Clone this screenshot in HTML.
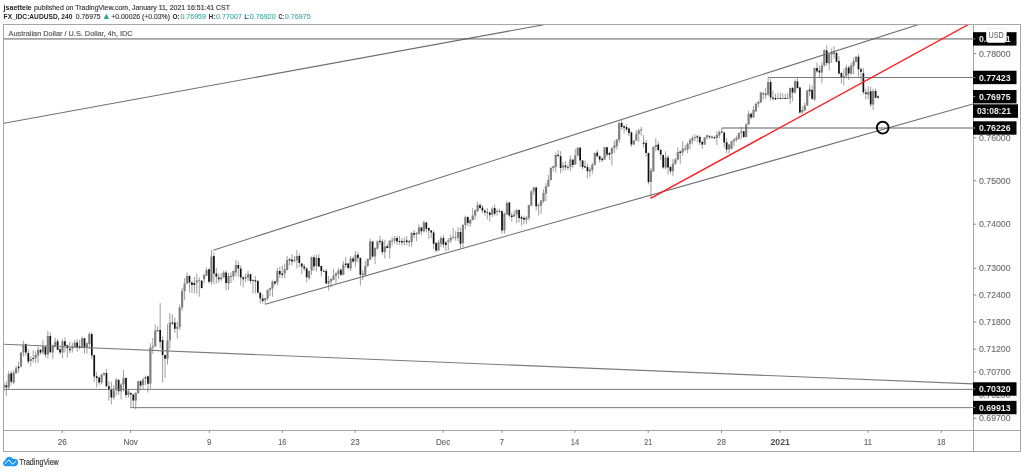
<!DOCTYPE html>
<html><head><meta charset="utf-8"><title>AUDUSD chart</title>
<style>html,body{margin:0;padding:0;background:#fff}body{width:1024px;height:472px;overflow:hidden}svg{display:block;will-change:transform}text{font-family:"Liberation Sans", sans-serif}</style></head><body>
<svg width="1024" height="472" viewBox="0 0 1024 472">
<rect width="1024" height="472" fill="#fff"/>
<text x="3.6" y="9.6" font-size="7.8" fill="#222" font-weight="bold" text-anchor="start" textLength="28.2" lengthAdjust="spacingAndGlyphs">jsaettele</text>
<text x="34" y="9.6" font-size="7.8" fill="#3c3c3c" font-weight="normal" text-anchor="start" textLength="196.0" lengthAdjust="spacingAndGlyphs" stroke="#3c3c3c" stroke-width="0.18">published on TradingView.com, January 11, 2021 16:51:41 CST</text>
<text x="3.6" y="18.9" font-size="7.8" fill="#222" font-weight="bold" text-anchor="start" textLength="68.8" lengthAdjust="spacingAndGlyphs">FX_IDC:AUDUSD, 240</text>
<text x="75.8" y="18.9" font-size="7.8" fill="#3c3c3c" font-weight="normal" text-anchor="start" textLength="24.9" lengthAdjust="spacingAndGlyphs" stroke="#3c3c3c" stroke-width="0.18">0.76975</text>
<path d="M103.7 18.9 L106.3 13.6 L108.9 18.9 Z" fill="#26a69a"/>
<text x="111.3" y="18.9" font-size="7.8" fill="#3c3c3c" font-weight="normal" text-anchor="start" textLength="58.7" lengthAdjust="spacingAndGlyphs" stroke="#3c3c3c" stroke-width="0.18">+0.00026 (+0.03%)</text>
<text x="172.5" y="18.9" font-size="7.8" fill="#222" font-weight="bold" text-anchor="start" textLength="7.2" lengthAdjust="spacingAndGlyphs">O:</text>
<text x="180.4" y="18.9" font-size="7.8" fill="#42b0a4" font-weight="normal" text-anchor="start" textLength="25.6" lengthAdjust="spacingAndGlyphs" stroke="#42b0a4" stroke-width="0.15">0.76959</text>
<text x="208.8" y="18.9" font-size="7.8" fill="#222" font-weight="bold" text-anchor="start" textLength="6.4" lengthAdjust="spacingAndGlyphs">H:</text>
<text x="216.0" y="18.9" font-size="7.8" fill="#42b0a4" font-weight="normal" text-anchor="start" textLength="26" lengthAdjust="spacingAndGlyphs" stroke="#42b0a4" stroke-width="0.15">0.77007</text>
<text x="244.4" y="18.9" font-size="7.8" fill="#222" font-weight="bold" text-anchor="start" textLength="4.6" lengthAdjust="spacingAndGlyphs">L:</text>
<text x="249.7" y="18.9" font-size="7.8" fill="#42b0a4" font-weight="normal" text-anchor="start" textLength="26" lengthAdjust="spacingAndGlyphs" stroke="#42b0a4" stroke-width="0.15">0.76920</text>
<text x="278.5" y="18.9" font-size="7.8" fill="#222" font-weight="bold" text-anchor="start" textLength="5.6" lengthAdjust="spacingAndGlyphs">C:</text>
<text x="284.8" y="18.9" font-size="7.8" fill="#42b0a4" font-weight="normal" text-anchor="start" textLength="26" lengthAdjust="spacingAndGlyphs" stroke="#42b0a4" stroke-width="0.15">0.76975</text>
<g fill="none" stroke="#a6a6a6" stroke-width="1">
<rect x="3.5" y="24.5" width="1017" height="427"/>
<line x1="973.5" y1="24.5" x2="973.5" y2="451.5"/>
<line x1="3.5" y1="430.5" x2="1020.5" y2="430.5"/>
</g>
<text x="8.6" y="35.9" font-size="7.6" fill="#585858" font-weight="normal" text-anchor="start" textLength="124" lengthAdjust="spacingAndGlyphs" stroke="#585858" stroke-width="0.18">Australian Dollar / U.S. Dollar, 4h, IDC</text>
<defs><clipPath id="c"><rect x="4" y="25" width="969" height="405"/></clipPath></defs>
<g clip-path="url(#c)">
<path d="M3.90 381.8V391.5M6.34 381.3V396.0M8.78 371.2V390.0M11.22 370.7V384.7M13.67 370.2V384.2M16.11 365.8V373.6M18.55 361.9V372.7M20.99 352.4V367.3M23.43 340.9V356.6M25.87 343.4V355.6M28.32 349.2V363.9M30.76 356.1V366.3M33.20 350.2V362.4M35.64 351.2V362.9M38.08 346.8V362.9M40.52 349.2V354.6M42.97 339.9V354.6M45.41 345.8V357.5M47.85 331.0V358.5M50.29 332.5V353.0M52.73 344.8V359.0M55.17 337.8V346.8M57.62 338.8V350.2M60.06 347.8V354.6M62.50 339.3V358.0M64.94 337.3V352.6M67.38 344.4V357.5M69.83 341.9V353.1M72.27 342.9V352.6M74.71 339.9V347.8M77.15 339.0V351.7M79.59 339.9V349.7M82.03 336.4V348.7M84.48 337.8V353.6M86.92 342.4V353.6M89.36 332.0V348.7M91.80 332.5V359.0M94.24 355.1V381.9M96.68 371.9V387.5M99.13 376.9V385.0M101.57 373.8V384.4M104.01 371.9V376.2M106.45 368.8V386.9M108.89 381.2V400.6M111.33 381.9V404.4M113.78 385.0V399.4M116.22 378.1V395.6M118.66 378.8V395.0M121.10 383.1V399.4M123.54 370.0V391.2M125.98 377.5V398.1M128.43 388.8V397.5M130.87 392.5V407.5M133.31 393.8V407.5M135.75 391.9V409.4M138.19 380.6V393.8M140.63 380.0V388.8M143.08 377.5V388.8M145.52 375.6V385.0M147.96 375.6V392.5M150.40 343.1V388.8M152.84 338.1V353.8M155.28 324.4V346.9M157.73 326.2V331.9M160.17 303.1V348.1M162.61 336.3V382.5M165.05 355.0V378.1M167.49 323.8V364.4M169.93 313.1V348.8M172.38 314.4V325.0M174.82 317.5V333.1M177.26 321.9V338.8M179.70 304.4V330.0M182.14 288.0V310.5M184.58 278.0V299.9M187.03 272.4V284.2M189.47 274.9V292.4M191.91 281.1V293.0M194.35 276.8V293.6M196.79 273.6V293.6M199.24 277.4V296.8M201.68 279.9V288.6M204.12 273.6V283.6M206.56 267.4V276.1M209.00 268.6V283.6M211.44 249.9V284.9M213.89 252.4V284.2M216.33 268.0V283.6M218.77 273.6V283.0M221.21 273.0V281.1M223.65 270.5V278.0M226.09 270.5V290.5M228.54 273.0V289.9M230.98 272.4V283.0M233.42 270.5V280.5M235.86 259.9V276.1M238.30 261.1V276.8M240.74 265.5V285.5M243.19 276.1V287.4M245.63 273.6V282.4M248.07 270.5V281.1M250.51 273.6V283.6M252.95 279.2V293.6M255.39 276.1V293.6M257.84 279.9V293.6M260.28 291.8V303.6M262.72 294.2V303.6M265.16 297.4V304.2M267.60 289.2V300.5M270.04 287.4V296.1M272.49 280.5V296.8M274.93 280.5V285.5M277.37 268.0V285.5M279.81 266.8V278.0M282.25 265.5V278.0M284.69 263.6V278.0M287.14 256.1V270.5M289.58 258.0V265.5M292.02 254.2V265.5M294.46 256.1V262.4M296.90 249.9V268.6M299.34 253.5V267.2M301.79 262.9V274.1M304.23 264.1V271.0M306.67 267.2V282.2M309.11 270.4V279.8M311.55 256.6V274.8M314.00 254.8V271.0M316.44 254.8V271.6M318.88 254.1V267.2M321.32 265.4V276.6M323.76 269.1V272.2M326.20 269.1V284.1M328.65 276.0V290.4M331.09 277.9V287.2M333.53 269.1V280.4M335.97 272.2V284.1M338.41 267.9V279.1M340.85 268.5V276.0M343.30 261.0V275.4M345.74 257.2V267.9M348.18 262.9V269.8M350.62 256.0V271.0M353.06 256.6V262.9M355.50 251.0V266.6M357.95 252.2V262.2M360.39 257.2V285.4M362.83 269.8V279.8M365.27 261.0V276.6M367.71 258.5V267.2M370.15 238.5V260.4M372.60 241.0V257.9M375.04 247.2V264.1M377.48 240.4V249.8M379.92 236.0V244.8M382.36 239.1V254.8M384.80 239.8V258.5M387.25 244.1V248.5M389.69 239.8V258.5M392.13 237.2V245.4M394.57 236.0V243.5M397.01 236.0V244.8M399.45 236.0V244.8M401.90 237.9V245.4M404.34 237.2V245.4M406.78 236.0V245.4M409.22 239.8V246.6M411.66 231.9V246.9M414.10 230.0V238.1M416.55 231.9V241.2M418.99 224.4V234.4M421.43 226.9V235.0M423.87 220.6V232.5M426.31 221.9V232.5M428.75 227.5V238.8M431.20 230.0V238.1M433.64 230.6V248.8M436.08 241.9V252.5M438.52 240.0V251.2M440.96 236.2V246.9M443.41 235.0V248.1M445.85 241.2V251.2M448.29 238.1V250.6M450.73 234.4V243.1M453.17 228.1V239.4M455.61 231.2V240.6M458.06 226.9V241.2M460.50 227.5V248.1M462.94 223.8V247.5M465.38 215.6V229.4M467.82 216.2V226.2M470.26 218.8V226.9M472.71 208.1V220.6M475.15 209.4V219.4M477.59 201.9V211.9M480.03 203.1V209.4M482.47 205.0V213.1M484.91 209.4V215.6M487.36 208.1V219.4M489.80 211.9V221.9M492.24 206.9V216.9M494.68 204.4V215.6M497.12 208.8V215.6M499.56 208.8V212.5M502.01 210.0V233.8M504.45 212.5V233.8M506.89 200.6V215.0M509.33 201.9V217.5M511.77 212.5V221.9M514.21 210.6V217.5M516.66 208.8V223.1M519.10 209.4V222.5M521.54 215.6V225.6M523.98 215.6V224.4M526.42 216.2V223.8M528.86 204.8V220.6M531.31 190.6V206.2M533.75 186.9V195.0M536.19 186.9V210.6M538.63 203.1V215.6M541.07 200.0V213.8M543.51 189.4V203.1M545.96 183.1V201.2M548.40 175.0V186.9M550.84 166.9V180.6M553.28 165.6V171.2M555.72 152.5V172.5M558.17 150.0V156.2M560.61 151.2V173.1M563.05 161.9V171.2M565.49 161.2V170.0M567.93 164.4V170.0M570.37 155.6V171.2M572.82 158.8V168.1M575.26 148.8V165.0M577.70 146.9V156.2M580.14 146.9V166.9M582.58 160.0V169.4M585.02 160.6V168.1M587.47 163.8V178.1M589.91 167.5V176.9M592.35 163.1V173.8M594.79 152.5V165.6M597.23 150.0V157.5M599.67 155.6V162.5M602.12 156.9V161.9M604.56 146.9V160.0M607.00 146.9V156.9M609.44 151.9V160.0M611.88 147.5V165.6M614.32 140.6V153.1M616.77 138.8V149.4M619.21 121.9V143.1M621.65 120.0V129.4M624.09 125.0V133.8M626.53 124.4V131.2M628.97 127.5V136.2M631.42 131.2V146.9M633.86 140.0V145.0M636.30 130.0V141.2M638.74 128.8V141.9M641.18 126.9V135.6M643.62 135.0V147.5M646.07 140.0V156.9M648.51 152.5V184.4M650.95 168.1V197.8M653.39 146.2V171.9M655.83 138.1V151.2M658.27 141.2V151.2M660.72 148.8V160.0M663.16 154.4V168.8M665.60 151.2V169.4M668.04 155.0V174.4M670.48 165.6V173.8M672.92 158.8V176.2M675.37 158.1V165.0M677.81 147.5V160.6M680.25 150.6V163.8M682.69 141.2V155.6M685.13 145.0V151.2M687.58 142.5V153.1M690.02 138.1V148.8M692.46 135.6V144.4M694.90 134.4V141.2M697.34 135.0V142.5M699.78 135.6V145.0M702.23 140.6V148.8M704.67 136.9V145.0M707.11 134.4V139.4M709.55 135.0V138.8M711.99 135.6V138.8M714.43 136.2V139.0M716.88 131.2V145.0M719.32 130.6V138.1M721.76 128.1V133.1M724.20 131.9V147.5M726.64 138.1V153.1M729.08 143.8V153.8M731.53 140.6V149.4M733.97 138.1V146.2M736.41 135.6V141.9M738.85 132.5V140.0M741.29 126.9V138.8M743.73 130.6V138.1M746.18 123.1V137.5M748.62 110.6V125.0M751.06 112.5V119.4M753.50 106.2V118.1M755.94 102.5V111.9M758.38 100.6V107.5M760.83 91.9V103.1M763.27 91.9V99.4M765.71 88.1V98.8M768.15 77.5V96.2M770.59 78.8V100.6M773.03 90.6V100.6M775.48 93.8V99.8M777.92 93.1V99.0M780.36 92.5V99.0M782.80 93.1V99.0M785.24 93.8V99.0M787.68 93.1V99.0M790.13 87.5V104.4M792.57 86.9V101.2M795.01 79.4V93.8M797.45 77.5V88.8M799.89 86.9V113.8M802.34 106.2V113.8M804.78 102.5V111.2M807.22 90.0V106.2M809.66 84.4V96.2M812.10 85.6V100.0M814.54 67.5V101.2M816.99 62.5V72.5M819.43 65.6V78.1M821.87 61.9V83.1M824.31 49.2V66.8M826.75 44.9V65.5M829.19 53.0V70.5M831.64 48.6V63.0M834.08 46.1V58.6M836.52 51.8V62.4M838.96 56.1V74.2M841.40 72.4V83.6M843.84 68.6V85.5M846.29 64.9V78.0M848.73 65.5V79.9M851.17 63.0V74.9M853.61 57.4V74.2M856.05 56.1V62.4M858.49 54.2V76.8M860.94 67.4V81.8M863.38 67.9V94.3M865.82 88.9V99.6M868.26 86.0V99.2M870.70 86.5V107.0M873.14 88.9V109.9M875.59 88.4V98.2M878.03 95.2V98.7" stroke="#8e8e8e" stroke-width="0.85" fill="none"/>
<path d="M2.80 384.7h2.2V387.6h-2.2ZM7.68 374.1h2.2V387.6h-2.2ZM12.57 372.7h2.2V382.7h-2.2ZM15.01 368.3h2.2V373.2h-2.2ZM19.89 352.4h2.2V366.8h-2.2ZM22.33 344.8h2.2V352.6h-2.2ZM29.66 359.0h2.2V360.9h-2.2ZM34.54 355.1h2.2V358.0h-2.2ZM36.98 349.7h2.2V355.6h-2.2ZM41.87 346.3h2.2V352.6h-2.2ZM46.75 335.9h2.2V354.6h-2.2ZM51.63 345.3h2.2V352.6h-2.2ZM54.07 341.7h2.2V346.8h-2.2ZM61.40 341.3h2.2V352.6h-2.2ZM73.61 342.4h2.2V347.8h-2.2ZM80.93 338.3h2.2V347.3h-2.2ZM85.82 343.2h2.2V347.8h-2.2ZM88.26 333.9h2.2V343.9h-2.2ZM100.47 374.4h2.2V382.5h-2.2ZM102.91 373.1h2.2V374.4h-2.2ZM112.68 390.6h2.2V397.5h-2.2ZM115.12 379.4h2.2V389.4h-2.2ZM120.00 384.4h2.2V391.2h-2.2ZM122.44 378.1h2.2V384.4h-2.2ZM127.33 391.2h2.2V395.0h-2.2ZM134.65 393.1h2.2V400.6h-2.2ZM137.09 381.2h2.2V393.1h-2.2ZM141.98 379.4h2.2V385.0h-2.2ZM144.42 376.9h2.2V378.8h-2.2ZM149.30 347.5h2.2V383.8h-2.2ZM151.74 346.2h2.2V347.5h-2.2ZM154.18 330.6h2.2V346.2h-2.2ZM156.63 330.0h2.2V331.2h-2.2ZM166.39 340.6h2.2V358.8h-2.2ZM168.83 322.5h2.2V340.6h-2.2ZM176.16 326.9h2.2V328.8h-2.2ZM178.60 307.5h2.2V326.9h-2.2ZM181.04 291.1h2.2V307.4h-2.2ZM183.48 283.6h2.2V291.1h-2.2ZM185.93 276.1h2.2V283.6h-2.2ZM195.69 280.5h2.2V282.4h-2.2ZM198.14 280.2h2.2V281.1h-2.2ZM203.02 274.9h2.2V279.2h-2.2ZM205.46 269.9h2.2V275.5h-2.2ZM210.34 256.5h2.2V281.8h-2.2ZM220.11 277.4h2.2V279.2h-2.2ZM222.55 272.4h2.2V277.4h-2.2ZM227.44 276.1h2.2V283.6h-2.2ZM229.88 276.1h2.2V277.0h-2.2ZM232.32 271.1h2.2V276.5h-2.2ZM234.76 264.9h2.2V272.4h-2.2ZM244.53 276.8h2.2V278.6h-2.2ZM246.97 274.2h2.2V277.4h-2.2ZM264.06 298.2h2.2V300.2h-2.2ZM266.50 289.9h2.2V298.6h-2.2ZM268.94 288.2h2.2V289.9h-2.2ZM271.39 281.5h2.2V288.6h-2.2ZM276.27 271.1h2.2V282.4h-2.2ZM283.59 269.2h2.2V273.6h-2.2ZM286.04 259.9h2.2V269.9h-2.2ZM293.36 259.9h2.2V261.1h-2.2ZM295.80 256.1h2.2V260.5h-2.2ZM308.01 271.0h2.2V277.9h-2.2ZM310.45 257.2h2.2V270.4h-2.2ZM315.34 257.9h2.2V266.0h-2.2ZM327.55 281.0h2.2V283.5h-2.2ZM329.99 279.1h2.2V281.6h-2.2ZM332.43 275.4h2.2V279.8h-2.2ZM334.87 273.5h2.2V275.8h-2.2ZM337.31 270.4h2.2V274.1h-2.2ZM342.20 264.8h2.2V274.8h-2.2ZM349.52 258.5h2.2V268.5h-2.2ZM354.40 254.8h2.2V261.6h-2.2ZM361.73 273.5h2.2V275.0h-2.2ZM364.17 266.0h2.2V274.8h-2.2ZM366.61 259.1h2.2V266.0h-2.2ZM369.05 241.6h2.2V259.8h-2.2ZM373.94 247.9h2.2V256.6h-2.2ZM376.38 241.6h2.2V248.5h-2.2ZM383.70 246.6h2.2V252.0h-2.2ZM388.59 240.8h2.2V247.9h-2.2ZM391.03 240.4h2.2V241.6h-2.2ZM393.47 238.2h2.2V240.8h-2.2ZM403.24 240.8h2.2V242.2h-2.2ZM410.56 233.1h2.2V241.9h-2.2ZM415.45 233.1h2.2V234.4h-2.2ZM417.89 227.5h2.2V233.8h-2.2ZM422.77 222.5h2.2V231.2h-2.2ZM437.42 242.5h2.2V250.6h-2.2ZM439.86 238.1h2.2V243.8h-2.2ZM447.19 240.6h2.2V241.9h-2.2ZM449.63 237.8h2.2V240.6h-2.2ZM452.07 237.2h2.2V238.1h-2.2ZM454.51 236.9h2.2V237.8h-2.2ZM456.96 231.9h2.2V237.8h-2.2ZM461.84 225.0h2.2V243.1h-2.2ZM464.28 216.9h2.2V225.0h-2.2ZM469.16 220.0h2.2V223.5h-2.2ZM471.61 215.6h2.2V220.0h-2.2ZM474.05 210.6h2.2V215.6h-2.2ZM476.49 205.0h2.2V211.2h-2.2ZM491.14 208.8h2.2V214.8h-2.2ZM496.02 211.0h2.2V212.0h-2.2ZM503.35 213.8h2.2V230.6h-2.2ZM505.79 203.1h2.2V214.4h-2.2ZM513.11 214.4h2.2V216.5h-2.2ZM515.56 210.0h2.2V214.4h-2.2ZM525.32 217.5h2.2V219.8h-2.2ZM527.76 205.0h2.2V218.1h-2.2ZM530.21 191.2h2.2V205.6h-2.2ZM532.65 187.5h2.2V191.2h-2.2ZM537.53 205.0h2.2V206.2h-2.2ZM539.97 200.6h2.2V205.6h-2.2ZM542.41 193.1h2.2V201.2h-2.2ZM544.86 186.2h2.2V193.5h-2.2ZM547.30 180.0h2.2V186.5h-2.2ZM549.74 168.1h2.2V180.0h-2.2ZM552.18 166.2h2.2V168.1h-2.2ZM554.62 155.0h2.2V166.9h-2.2ZM561.95 165.6h2.2V167.5h-2.2ZM569.27 159.4h2.2V166.9h-2.2ZM574.16 155.6h2.2V164.4h-2.2ZM576.60 148.1h2.2V155.6h-2.2ZM588.81 169.4h2.2V171.5h-2.2ZM591.25 164.4h2.2V170.0h-2.2ZM593.69 153.1h2.2V164.8h-2.2ZM603.46 147.2h2.2V159.8h-2.2ZM610.78 148.1h2.2V153.8h-2.2ZM613.22 145.6h2.2V148.1h-2.2ZM615.67 139.4h2.2V146.2h-2.2ZM618.11 123.1h2.2V139.8h-2.2ZM632.76 140.6h2.2V144.4h-2.2ZM635.20 133.8h2.2V140.6h-2.2ZM637.64 130.6h2.2V133.8h-2.2ZM640.08 129.4h2.2V130.6h-2.2ZM649.85 170.6h2.2V181.9h-2.2ZM652.29 146.9h2.2V171.2h-2.2ZM654.73 145.0h2.2V146.9h-2.2ZM664.50 157.5h2.2V167.5h-2.2ZM671.82 163.8h2.2V171.2h-2.2ZM674.27 159.4h2.2V163.8h-2.2ZM676.71 151.9h2.2V159.4h-2.2ZM681.59 148.8h2.2V152.5h-2.2ZM684.03 148.5h2.2V149.4h-2.2ZM686.48 143.8h2.2V149.4h-2.2ZM688.92 140.0h2.2V143.8h-2.2ZM691.36 138.1h2.2V140.6h-2.2ZM693.80 136.9h2.2V138.1h-2.2ZM703.57 137.5h2.2V144.4h-2.2ZM706.01 135.2h2.2V137.5h-2.2ZM715.78 135.0h2.2V138.1h-2.2ZM718.22 131.9h2.2V135.6h-2.2ZM727.98 144.4h2.2V149.4h-2.2ZM730.43 141.2h2.2V148.8h-2.2ZM732.87 139.4h2.2V141.5h-2.2ZM735.31 138.1h2.2V139.8h-2.2ZM737.75 133.1h2.2V138.5h-2.2ZM740.19 131.5h2.2V133.1h-2.2ZM745.08 124.4h2.2V136.9h-2.2ZM747.52 113.8h2.2V124.4h-2.2ZM752.40 110.0h2.2V117.5h-2.2ZM754.84 103.8h2.2V111.2h-2.2ZM757.28 101.9h2.2V103.8h-2.2ZM759.73 92.5h2.2V102.5h-2.2ZM762.17 93.1h2.2V94.4h-2.2ZM767.05 81.9h2.2V94.4h-2.2ZM776.82 98.0h2.2V99.0h-2.2ZM781.70 98.0h2.2V99.0h-2.2ZM786.58 98.0h2.2V99.0h-2.2ZM789.03 88.1h2.2V98.2h-2.2ZM793.91 81.2h2.2V92.5h-2.2ZM801.24 110.0h2.2V112.2h-2.2ZM803.68 105.6h2.2V110.6h-2.2ZM806.12 90.6h2.2V105.6h-2.2ZM813.44 68.1h2.2V99.4h-2.2ZM820.77 65.6h2.2V72.5h-2.2ZM823.21 49.9h2.2V65.5h-2.2ZM828.09 54.2h2.2V63.6h-2.2ZM830.54 52.4h2.2V54.5h-2.2ZM842.74 76.1h2.2V77.4h-2.2ZM845.19 67.4h2.2V76.1h-2.2ZM850.07 65.5h2.2V73.6h-2.2ZM852.51 61.1h2.2V66.1h-2.2ZM854.95 56.8h2.2V61.8h-2.2ZM867.16 91.8h2.2V94.8h-2.2ZM872.04 90.9h2.2V104.5h-2.2Z" fill="#808080"/>
<path d="M5.49 385.2h1.7V387.6h-1.7ZM10.37 373.2h1.7V381.8h-1.7ZM17.70 366.8h1.7V368.3h-1.7ZM25.02 344.1h1.7V352.6h-1.7ZM27.47 353.1h1.7V361.4h-1.7ZM32.35 358.0h1.7V359.0h-1.7ZM39.67 349.7h1.7V352.6h-1.7ZM44.56 346.8h1.7V354.6h-1.7ZM49.44 335.9h1.7V352.2h-1.7ZM56.77 341.3h1.7V349.7h-1.7ZM59.21 349.2h1.7V352.6h-1.7ZM64.09 341.3h1.7V345.8h-1.7ZM66.53 345.3h1.7V348.2h-1.7ZM68.98 348.7h1.7V350.2h-1.7ZM71.42 347.3h1.7V348.2h-1.7ZM76.30 342.4h1.7V347.3h-1.7ZM78.74 346.3h1.7V347.8h-1.7ZM83.63 338.3h1.7V347.8h-1.7ZM90.95 333.9h1.7V355.6h-1.7ZM93.39 355.1h1.7V376.4h-1.7ZM95.83 376.2h1.7V378.1h-1.7ZM98.28 377.5h1.7V382.5h-1.7ZM105.60 373.1h1.7V386.2h-1.7ZM108.04 386.2h1.7V389.4h-1.7ZM110.48 390.0h1.7V397.5h-1.7ZM117.81 380.0h1.7V391.2h-1.7ZM125.13 378.1h1.7V395.0h-1.7ZM130.02 393.1h1.7V394.4h-1.7ZM132.46 394.4h1.7V400.6h-1.7ZM139.78 381.2h1.7V385.6h-1.7ZM147.11 376.2h1.7V383.8h-1.7ZM159.32 330.0h1.7V341.9h-1.7ZM161.76 340.0h1.7V355.0h-1.7ZM164.20 355.0h1.7V358.8h-1.7ZM171.53 322.5h1.7V323.8h-1.7ZM173.97 322.5h1.7V328.8h-1.7ZM188.62 276.1h1.7V282.4h-1.7ZM191.06 282.4h1.7V284.9h-1.7ZM193.50 283.0h1.7V284.9h-1.7ZM200.83 280.8h1.7V288.0h-1.7ZM208.15 269.2h1.7V281.8h-1.7ZM213.04 256.1h1.7V273.6h-1.7ZM215.48 273.6h1.7V276.8h-1.7ZM217.92 277.4h1.7V279.2h-1.7ZM225.24 272.4h1.7V283.0h-1.7ZM237.45 264.9h1.7V268.6h-1.7ZM239.89 268.6h1.7V277.4h-1.7ZM242.34 277.4h1.7V279.2h-1.7ZM249.66 274.2h1.7V281.1h-1.7ZM252.10 280.2h1.7V281.1h-1.7ZM254.54 280.2h1.7V281.5h-1.7ZM256.99 281.1h1.7V292.4h-1.7ZM259.43 292.8h1.7V298.6h-1.7ZM261.87 298.6h1.7V301.1h-1.7ZM274.08 281.5h1.7V283.6h-1.7ZM278.96 271.1h1.7V274.2h-1.7ZM281.40 273.6h1.7V274.9h-1.7ZM288.73 259.2h1.7V260.5h-1.7ZM291.17 259.5h1.7V261.5h-1.7ZM298.49 256.0h1.7V262.9h-1.7ZM300.94 263.5h1.7V266.6h-1.7ZM303.38 266.6h1.7V268.5h-1.7ZM305.82 268.5h1.7V277.2h-1.7ZM313.15 257.2h1.7V266.6h-1.7ZM318.03 257.9h1.7V266.6h-1.7ZM320.47 266.0h1.7V271.0h-1.7ZM322.91 270.9h1.7V271.8h-1.7ZM325.35 271.0h1.7V283.5h-1.7ZM340.00 269.8h1.7V274.8h-1.7ZM344.89 263.5h1.7V265.0h-1.7ZM347.33 263.5h1.7V267.9h-1.7ZM352.21 258.5h1.7V261.6h-1.7ZM357.10 254.8h1.7V257.9h-1.7ZM359.54 257.9h1.7V274.8h-1.7ZM371.75 241.6h1.7V256.6h-1.7ZM379.07 240.8h1.7V242.0h-1.7ZM381.51 241.6h1.7V252.0h-1.7ZM386.40 246.2h1.7V247.9h-1.7ZM396.16 237.9h1.7V241.6h-1.7ZM398.60 241.0h1.7V242.0h-1.7ZM401.05 241.0h1.7V242.5h-1.7ZM405.93 240.4h1.7V242.0h-1.7ZM408.37 241.2h1.7V242.2h-1.7ZM413.25 233.1h1.7V234.8h-1.7ZM420.58 227.5h1.7V231.2h-1.7ZM425.46 222.5h1.7V228.8h-1.7ZM427.90 228.1h1.7V230.6h-1.7ZM430.35 230.6h1.7V232.5h-1.7ZM432.79 232.5h1.7V243.8h-1.7ZM435.23 243.1h1.7V250.6h-1.7ZM442.56 238.1h1.7V244.4h-1.7ZM445.00 242.5h1.7V245.0h-1.7ZM459.65 231.9h1.7V243.8h-1.7ZM466.97 216.9h1.7V223.1h-1.7ZM479.18 205.0h1.7V208.1h-1.7ZM481.62 207.5h1.7V210.6h-1.7ZM484.06 210.6h1.7V212.5h-1.7ZM486.51 212.2h1.7V213.1h-1.7ZM488.95 212.5h1.7V215.0h-1.7ZM493.83 208.1h1.7V213.8h-1.7ZM498.71 210.9h1.7V211.8h-1.7ZM501.16 211.2h1.7V230.6h-1.7ZM508.48 202.5h1.7V215.6h-1.7ZM510.92 215.6h1.7V216.9h-1.7ZM518.25 210.0h1.7V218.1h-1.7ZM520.69 216.9h1.7V218.8h-1.7ZM523.13 218.1h1.7V219.8h-1.7ZM535.34 187.5h1.7V206.2h-1.7ZM557.32 154.8h1.7V156.2h-1.7ZM559.76 156.2h1.7V168.1h-1.7ZM564.64 165.6h1.7V167.2h-1.7ZM567.08 166.9h1.7V167.8h-1.7ZM571.97 159.8h1.7V165.0h-1.7ZM579.29 147.8h1.7V160.6h-1.7ZM581.73 160.6h1.7V166.9h-1.7ZM584.17 166.2h1.7V167.5h-1.7ZM586.62 166.9h1.7V171.2h-1.7ZM596.38 152.5h1.7V156.2h-1.7ZM598.82 156.2h1.7V159.4h-1.7ZM601.27 158.8h1.7V160.2h-1.7ZM606.15 147.2h1.7V154.4h-1.7ZM608.59 153.1h1.7V154.8h-1.7ZM620.80 123.1h1.7V126.9h-1.7ZM623.24 126.2h1.7V127.8h-1.7ZM625.68 126.9h1.7V129.4h-1.7ZM628.12 128.5h1.7V133.1h-1.7ZM630.57 132.5h1.7V144.4h-1.7ZM642.77 142.5h1.7V143.8h-1.7ZM645.22 143.1h1.7V153.1h-1.7ZM647.66 153.1h1.7V181.9h-1.7ZM657.42 144.4h1.7V150.0h-1.7ZM659.87 150.0h1.7V154.4h-1.7ZM662.31 155.0h1.7V167.5h-1.7ZM667.19 157.5h1.7V167.5h-1.7ZM669.63 166.9h1.7V171.2h-1.7ZM679.40 151.5h1.7V153.1h-1.7ZM696.49 136.2h1.7V137.5h-1.7ZM698.93 136.9h1.7V142.5h-1.7ZM701.38 141.9h1.7V144.4h-1.7ZM708.70 136.2h1.7V137.2h-1.7ZM711.14 136.7h1.7V137.6h-1.7ZM713.58 137.2h1.7V138.2h-1.7ZM720.91 131.6h1.7V132.5h-1.7ZM723.35 132.5h1.7V142.5h-1.7ZM725.79 142.2h1.7V149.4h-1.7ZM742.88 131.2h1.7V136.9h-1.7ZM750.21 113.8h1.7V117.5h-1.7ZM764.86 93.8h1.7V94.8h-1.7ZM769.74 81.9h1.7V97.5h-1.7ZM772.18 97.5h1.7V98.8h-1.7ZM774.63 98.1h1.7V99.4h-1.7ZM779.51 98.0h1.7V99.0h-1.7ZM784.39 98.0h1.7V99.0h-1.7ZM791.72 88.1h1.7V92.5h-1.7ZM796.60 81.2h1.7V88.1h-1.7ZM799.04 87.5h1.7V112.5h-1.7ZM808.81 89.4h1.7V91.2h-1.7ZM811.25 90.0h1.7V98.8h-1.7ZM816.14 68.1h1.7V71.2h-1.7ZM818.58 70.6h1.7V72.5h-1.7ZM825.90 50.5h1.7V63.0h-1.7ZM833.23 52.4h1.7V53.6h-1.7ZM835.67 53.0h1.7V61.8h-1.7ZM838.11 61.1h1.7V73.6h-1.7ZM840.55 73.0h1.7V77.4h-1.7ZM847.88 67.4h1.7V73.6h-1.7ZM857.64 56.8h1.7V69.2h-1.7ZM860.09 69.2h1.7V71.8h-1.7ZM862.53 73.3h1.7V92.3h-1.7ZM864.97 92.5h1.7V94.1h-1.7ZM869.85 91.2h1.7V104.5h-1.7ZM874.74 90.9h1.7V97.7h-1.7ZM877.18 96.2h1.7V97.7h-1.7Z" fill="#111"/>
<g stroke="#6e6e6e" stroke-width="1.1" fill="none">
<line x1="3.5" y1="123.4" x2="545" y2="24.5"/>
<line x1="213.2" y1="250.2" x2="918.6" y2="24.5"/>
<line x1="265.2" y1="304.2" x2="973" y2="104"/>
<line x1="3.5" y1="344.3" x2="973" y2="383.9" stroke="#7c7c7c"/>
</g>
<g stroke="#5e5e5e" stroke-width="1" fill="none">
<line x1="3.5" y1="38.95" x2="973" y2="38.95"/>
<line x1="768.1" y1="77.5" x2="973" y2="77.5" stroke="#787878"/>
<line x1="721.7" y1="128.0" x2="973" y2="128.0"/>
<line x1="3.5" y1="389.4" x2="973" y2="389.4" stroke="#787878"/>
<line x1="130.4" y1="407.65" x2="973" y2="407.65" stroke="#787878"/>
</g>
<line x1="650.5" y1="198.4" x2="968.5" y2="24.5" stroke="#ff1c1c" stroke-width="1.4"/>
<circle cx="882.7" cy="127.7" r="5.9" fill="none" stroke="#000" stroke-width="1.9"/>
</g>
<line x1="973.5" y1="53.6" x2="976.3" y2="53.6" stroke="#8a8a8a" stroke-width="1"/>
<text x="979.0" y="56.7" font-size="9.1" fill="#6c6c6c" font-weight="normal" text-anchor="start" textLength="31.6" lengthAdjust="spacingAndGlyphs" stroke="#6c6c6c" stroke-width="0.12">0.78000</text>
<line x1="973.5" y1="137.8" x2="976.3" y2="137.8" stroke="#8a8a8a" stroke-width="1"/>
<text x="979.0" y="140.8" font-size="9.1" fill="#6c6c6c" font-weight="normal" text-anchor="start" textLength="31.6" lengthAdjust="spacingAndGlyphs" stroke="#6c6c6c" stroke-width="0.12">0.76000</text>
<line x1="973.5" y1="180.7" x2="976.3" y2="180.7" stroke="#8a8a8a" stroke-width="1"/>
<text x="979.0" y="183.8" font-size="9.1" fill="#6c6c6c" font-weight="normal" text-anchor="start" textLength="31.6" lengthAdjust="spacingAndGlyphs" stroke="#6c6c6c" stroke-width="0.12">0.75000</text>
<line x1="973.5" y1="224.2" x2="976.3" y2="224.2" stroke="#8a8a8a" stroke-width="1"/>
<text x="979.0" y="227.3" font-size="9.1" fill="#6c6c6c" font-weight="normal" text-anchor="start" textLength="31.6" lengthAdjust="spacingAndGlyphs" stroke="#6c6c6c" stroke-width="0.12">0.74000</text>
<line x1="973.5" y1="268.3" x2="976.3" y2="268.3" stroke="#8a8a8a" stroke-width="1"/>
<text x="979.0" y="271.3" font-size="9.1" fill="#6c6c6c" font-weight="normal" text-anchor="start" textLength="31.6" lengthAdjust="spacingAndGlyphs" stroke="#6c6c6c" stroke-width="0.12">0.73000</text>
<line x1="973.5" y1="295.0" x2="976.3" y2="295.0" stroke="#8a8a8a" stroke-width="1"/>
<text x="979.0" y="298.1" font-size="9.1" fill="#6c6c6c" font-weight="normal" text-anchor="start" textLength="31.6" lengthAdjust="spacingAndGlyphs" stroke="#6c6c6c" stroke-width="0.12">0.72400</text>
<line x1="973.5" y1="322.0" x2="976.3" y2="322.0" stroke="#8a8a8a" stroke-width="1"/>
<text x="979.0" y="325.1" font-size="9.1" fill="#6c6c6c" font-weight="normal" text-anchor="start" textLength="31.6" lengthAdjust="spacingAndGlyphs" stroke="#6c6c6c" stroke-width="0.12">0.71800</text>
<line x1="973.5" y1="349.2" x2="976.3" y2="349.2" stroke="#8a8a8a" stroke-width="1"/>
<text x="979.0" y="352.2" font-size="9.1" fill="#6c6c6c" font-weight="normal" text-anchor="start" textLength="31.6" lengthAdjust="spacingAndGlyphs" stroke="#6c6c6c" stroke-width="0.12">0.71200</text>
<line x1="973.5" y1="372.0" x2="976.3" y2="372.0" stroke="#8a8a8a" stroke-width="1"/>
<text x="979.0" y="375.1" font-size="9.1" fill="#6c6c6c" font-weight="normal" text-anchor="start" textLength="31.6" lengthAdjust="spacingAndGlyphs" stroke="#6c6c6c" stroke-width="0.12">0.70700</text>
<line x1="973.5" y1="395.0" x2="976.3" y2="395.0" stroke="#8a8a8a" stroke-width="1"/>
<text x="979.0" y="398.1" font-size="9.1" fill="#6c6c6c" font-weight="normal" text-anchor="start" textLength="31.6" lengthAdjust="spacingAndGlyphs" stroke="#6c6c6c" stroke-width="0.12">0.70200</text>
<line x1="973.5" y1="418.2" x2="976.3" y2="418.2" stroke="#8a8a8a" stroke-width="1"/>
<text x="979.0" y="421.2" font-size="9.1" fill="#6c6c6c" font-weight="normal" text-anchor="start" textLength="31.6" lengthAdjust="spacingAndGlyphs" stroke="#6c6c6c" stroke-width="0.12">0.69700</text>
<rect x="973" y="32.20" width="43.5" height="13.4" fill="#000"/>
<line x1="973" y1="38.9" x2="975.4" y2="38.9" stroke="#8c8c8c" stroke-width="1"/>
<text x="978.9" y="42.0" font-size="8.9" fill="#ececec" font-weight="bold" text-anchor="start" textLength="31.7" lengthAdjust="spacingAndGlyphs">0.78361</text>
<rect x="973" y="70.75" width="43.5" height="13.4" fill="#000"/>
<line x1="973" y1="77.5" x2="975.4" y2="77.5" stroke="#8c8c8c" stroke-width="1"/>
<text x="978.9" y="80.6" font-size="8.9" fill="#ececec" font-weight="bold" text-anchor="start" textLength="31.7" lengthAdjust="spacingAndGlyphs">0.77423</text>
<rect x="973" y="90.00" width="43.5" height="13.4" fill="#000"/>
<line x1="973" y1="96.7" x2="975.4" y2="96.7" stroke="#8c8c8c" stroke-width="1"/>
<text x="978.9" y="99.9" font-size="8.9" fill="#ececec" font-weight="bold" text-anchor="start" textLength="31.7" lengthAdjust="spacingAndGlyphs">0.76975</text>
<rect x="973" y="104.3" width="45" height="13.5" fill="#000"/>
<text x="976.9" y="114.4" font-size="8.9" fill="#ececec" font-weight="bold" text-anchor="start" textLength="34.0" lengthAdjust="spacingAndGlyphs">03:08:21</text>
<rect x="973" y="121.30" width="43.5" height="13.4" fill="#000"/>
<line x1="973" y1="128.0" x2="975.4" y2="128.0" stroke="#8c8c8c" stroke-width="1"/>
<text x="978.9" y="131.2" font-size="8.9" fill="#ececec" font-weight="bold" text-anchor="start" textLength="31.7" lengthAdjust="spacingAndGlyphs">0.76226</text>
<rect x="973" y="382.30" width="43.5" height="13.4" fill="#000"/>
<line x1="973" y1="389.0" x2="975.4" y2="389.0" stroke="#8c8c8c" stroke-width="1"/>
<text x="978.9" y="392.1" font-size="8.9" fill="#ececec" font-weight="bold" text-anchor="start" textLength="31.7" lengthAdjust="spacingAndGlyphs">0.70320</text>
<rect x="973" y="400.85" width="43.5" height="13.4" fill="#000"/>
<line x1="973" y1="407.6" x2="975.4" y2="407.6" stroke="#8c8c8c" stroke-width="1"/>
<text x="978.9" y="410.7" font-size="8.9" fill="#ececec" font-weight="bold" text-anchor="start" textLength="31.7" lengthAdjust="spacingAndGlyphs">0.69913</text>
<rect x="986.5" y="28.4" width="19.8" height="14" rx="2.2" fill="#fff" stroke="#dfe3ea" stroke-width="0.8"/>
<text x="996.2" y="38.3" font-size="9.4" fill="#5a5a5a" font-weight="normal" text-anchor="middle" textLength="15.2" lengthAdjust="spacingAndGlyphs">USD</text>
<line x1="62.3" y1="430.5" x2="62.3" y2="432.8" stroke="#8a8a8a" stroke-width="1"/>
<text x="62.3" y="444.7" font-size="9.2" fill="#606060" font-weight="normal" text-anchor="middle" textLength="9.2" lengthAdjust="spacingAndGlyphs" stroke="#606060" stroke-width="0.12">26</text>
<line x1="130.6" y1="430.5" x2="130.6" y2="432.8" stroke="#8a8a8a" stroke-width="1"/>
<text x="130.6" y="444.7" font-size="9.2" fill="#606060" font-weight="normal" text-anchor="middle" textLength="14.4" lengthAdjust="spacingAndGlyphs" stroke="#606060" stroke-width="0.12">Nov</text>
<line x1="209.3" y1="430.5" x2="209.3" y2="432.8" stroke="#8a8a8a" stroke-width="1"/>
<text x="209.3" y="444.7" font-size="9.2" fill="#606060" font-weight="normal" text-anchor="middle" textLength="4.4" lengthAdjust="spacingAndGlyphs" stroke="#606060" stroke-width="0.12">9</text>
<line x1="282.3" y1="430.5" x2="282.3" y2="432.8" stroke="#8a8a8a" stroke-width="1"/>
<text x="282.3" y="444.7" font-size="9.2" fill="#606060" font-weight="normal" text-anchor="middle" textLength="8.1" lengthAdjust="spacingAndGlyphs" stroke="#606060" stroke-width="0.12">16</text>
<line x1="355.2" y1="430.5" x2="355.2" y2="432.8" stroke="#8a8a8a" stroke-width="1"/>
<text x="355.2" y="444.7" font-size="9.2" fill="#606060" font-weight="normal" text-anchor="middle" textLength="8.8" lengthAdjust="spacingAndGlyphs" stroke="#606060" stroke-width="0.12">23</text>
<line x1="443.2" y1="430.5" x2="443.2" y2="432.8" stroke="#8a8a8a" stroke-width="1"/>
<text x="443.2" y="444.7" font-size="9.2" fill="#606060" font-weight="normal" text-anchor="middle" textLength="14.3" lengthAdjust="spacingAndGlyphs" stroke="#606060" stroke-width="0.12">Dec</text>
<line x1="502.0" y1="430.5" x2="502.0" y2="432.8" stroke="#8a8a8a" stroke-width="1"/>
<text x="502.0" y="444.7" font-size="9.2" fill="#606060" font-weight="normal" text-anchor="middle" textLength="4.3" lengthAdjust="spacingAndGlyphs" stroke="#606060" stroke-width="0.12">7</text>
<line x1="574.9" y1="430.5" x2="574.9" y2="432.8" stroke="#8a8a8a" stroke-width="1"/>
<text x="574.9" y="444.7" font-size="9.2" fill="#606060" font-weight="normal" text-anchor="middle" textLength="8.4" lengthAdjust="spacingAndGlyphs" stroke="#606060" stroke-width="0.12">14</text>
<line x1="648.2" y1="430.5" x2="648.2" y2="432.8" stroke="#8a8a8a" stroke-width="1"/>
<text x="648.2" y="444.7" font-size="9.2" fill="#606060" font-weight="normal" text-anchor="middle" textLength="7.8" lengthAdjust="spacingAndGlyphs" stroke="#606060" stroke-width="0.12">21</text>
<line x1="721.5" y1="430.5" x2="721.5" y2="432.8" stroke="#8a8a8a" stroke-width="1"/>
<text x="721.5" y="444.7" font-size="9.2" fill="#606060" font-weight="normal" text-anchor="middle" textLength="8.8" lengthAdjust="spacingAndGlyphs" stroke="#606060" stroke-width="0.12">28</text>
<line x1="780.2" y1="430.5" x2="780.2" y2="432.8" stroke="#8a8a8a" stroke-width="1"/>
<text x="780.2" y="444.7" font-size="9.2" fill="#505050" font-weight="bold" text-anchor="middle" textLength="19.5" lengthAdjust="spacingAndGlyphs">2021</text>
<line x1="868" y1="430.5" x2="868" y2="432.8" stroke="#8a8a8a" stroke-width="1"/>
<text x="868" y="444.7" font-size="9.2" fill="#606060" font-weight="normal" text-anchor="middle" textLength="7.8" lengthAdjust="spacingAndGlyphs" stroke="#606060" stroke-width="0.12">11</text>
<line x1="941.3" y1="430.5" x2="941.3" y2="432.8" stroke="#8a8a8a" stroke-width="1"/>
<text x="941.3" y="444.7" font-size="9.2" fill="#606060" font-weight="normal" text-anchor="middle" textLength="8.4" lengthAdjust="spacingAndGlyphs" stroke="#606060" stroke-width="0.12">18</text>
<g fill="#2196f3"><circle cx="5.9" cy="463.3" r="2.9"/><circle cx="9.3" cy="461.0" r="4.1"/><circle cx="14.3" cy="462.5" r="3.7"/><rect x="5.9" y="462" width="8.4" height="4.2"/></g>
<path d="M4.8 463.9 L9.0 459.9 L12.6 464.4 L15.9 461.2" stroke="#fff" stroke-width="1" fill="none" stroke-linejoin="round"/>
<text x="19.4" y="465.0" font-size="8.5" fill="#3a3a3a" font-weight="normal" text-anchor="start" textLength="39.4" lengthAdjust="spacingAndGlyphs" stroke="#3a3a3a" stroke-width="0.2">TradingView</text>
</svg></body></html>
